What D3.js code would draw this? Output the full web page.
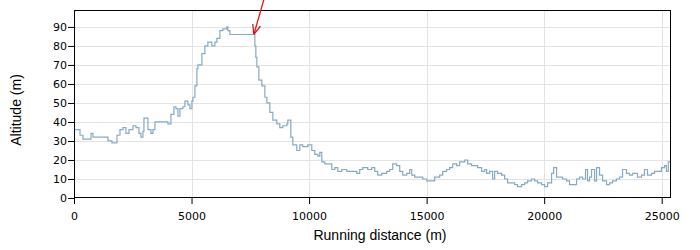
<!DOCTYPE html>
<html lang="en">
<head>
    <meta charset="UTF-8">
    <title>Altitude profile</title>
    <script src="https://d3js.org/d3.v7.js"></script>
    <style>
        body { margin: 0; background: #fff; }
        svg { display: block; }
        .axis text { font-family: "DejaVu Sans", sans-serif; font-size: 11px; fill: #000; }
        .axis path, .axis line { stroke: #000; }
        .grid line { stroke: #e3e3e3; stroke-width: 1px; }
        .title { font-family: "Liberation Sans", Arial, sans-serif; font-size: 14px; fill: #000; }
    </style>
</head>
<body>
    <svg width="700" height="250"></svg>
    <script>
        // running distance (m) and altitude (m)
        const distance = [
            0, 255, 383, 468, 723, 808, 1318, 1445, 1615, 1743, 1828, 1955, 2083, 2210, 2338, 2508,
            2635, 2763, 2848, 2933, 2975, 3103, 3145, 3273, 3358, 3443, 3570, 3783, 3995, 4123, 4250,
            4335, 4420, 4505, 4633, 4718, 4845, 4930, 5015, 5058, 5143, 5228, 5270, 5440, 5568, 5695,
            5865, 5993, 6078, 6205, 6333, 6503, 6545, 6630, 7650, 7693, 7735, 7778, 7863, 7990, 8118,
            8203, 8330, 8458, 8628, 8755, 8883, 9053, 9095, 9223, 9308, 9478, 9605, 9733, 9945, 10115,
            10243, 10370, 10455, 10540, 10668, 10795, 10965, 11093, 11220, 11390, 11603, 11815, 12028,
            12155, 12283, 12495, 12665, 12793, 12920, 13090, 13303, 13430, 13558, 13728, 13855, 13983,
            14153, 14280, 14365, 14493, 14705, 14833, 15003, 15130, 15343, 15555, 15683, 15853, 15980,
            16108, 16278, 16405, 16618, 16745, 16915, 17043, 17170, 17340, 17468, 17553, 17680, 17808,
            17893, 18020, 18190, 18318, 18445, 18615, 18743, 18870, 19040, 19168, 19295, 19465, 19593,
            19720, 19890, 20018, 20145, 20315, 20400, 20528, 20655, 20783, 20953, 21080, 21208, 21378,
            21505, 21633, 21760, 21845, 21930, 22015, 22143, 22228, 22355, 22483, 22653, 22780, 22908,
            23078, 23205, 23333, 23503, 23630, 23758, 23970, 24140, 24268, 24395, 24565, 24693, 24820,
            24990, 25118, 25200, 25280, 25395
        ];
        const altitude = [
            36, 33, 31, 31, 34, 32, 32, 30, 29, 29, 33, 36, 37, 34, 36, 38,
            37, 34, 32, 35, 42, 42, 36, 34, 36, 40, 40, 40, 39, 44, 48,
            47, 43, 47, 48, 51, 49, 47, 51, 53, 59, 68, 70, 76, 80, 82,
            80, 82, 84, 88, 89, 90, 88, 86, 86, 80, 74, 69, 62, 59, 53,
            50, 45, 41, 39, 37, 38, 39, 41, 32, 28, 25, 28, 27, 28, 25,
            23, 22, 24, 19, 18, 18, 15, 16, 14, 15, 14, 14, 13,
            15, 16, 15, 16, 14, 12, 13, 14, 15, 18, 17, 14, 12,
            13, 15, 12, 11, 11, 10, 9, 9, 11, 12, 14, 15, 16,
            18, 17, 19, 20, 18, 17, 17, 16, 14, 15, 13, 14, 10,
            14, 13, 12, 10, 8, 8, 7, 6, 7, 8, 9, 10, 9,
            8, 7, 6, 8, 13, 16, 11, 11, 10, 9, 7, 7, 10,
            11, 10, 15, 9, 11, 15, 9, 16, 12, 9, 7, 8, 9,
            10, 11, 15, 13, 12, 13, 11, 12, 15, 12, 13, 14, 14,
            16, 17, 14, 19, 22
        ];
        const yTicks = [0, 10, 20, 30, 40, 50, 60, 70, 80, 90];
        const xTicks = [0, 5000, 10000, 15000, 20000, 25000];
        // annotation arrow: tail (outside the frame) -> tip at start of descent
        const arrowTail = [8080, 104.5];
        const arrowTip = [7650, 86];

        const width = 700, height = 250;
        const margin = { top: 10, right: 29, bottom: 52, left: 74 };
        const svg = d3.select("svg");

        const x = d3.scaleLinear()
            .domain([0, 25395])
            .range([margin.left, width - margin.right]);
        const y = d3.scaleLinear()
            .domain([0, 98.9])
            .range([height - margin.bottom, margin.top]);

        // grid
        svg.append("g").attr("class", "grid")
            .selectAll("line.h").data(yTicks.slice(1)).enter().append("line")
            .attr("x1", margin.left).attr("x2", width - margin.right)
            .attr("y1", d => Math.round(y(d)) + 0.5).attr("y2", d => Math.round(y(d)) + 0.5);
        svg.append("g").attr("class", "grid")
            .selectAll("line.v").data(xTicks.slice(1)).enter().append("line")
            .attr("y1", margin.top).attr("y2", height - margin.bottom)
            .attr("x1", d => Math.round(x(d)) + 0.5).attr("x2", d => Math.round(x(d)) + 0.5);

        svg.append("clipPath").attr("id", "clip")
            .append("rect")
            .attr("x", margin.left).attr("y", margin.top)
            .attr("width", width - margin.left - margin.right)
            .attr("height", height - margin.top - margin.bottom);

        const points = distance.map((d, i) => [d, altitude[i]]);
        const line = d3.line()
            .x(d => x(d[0]))
            .y(d => y(d[1]))
            .curve(d3.curveStepAfter);

        svg.append("path")
            .attr("clip-path", "url(#clip)")
            .attr("d", line(points))
            .attr("fill", "none")
            .attr("stroke", "#86a9c4")
            .attr("stroke-width", 1.2);

        // frame
        svg.append("rect")
            .attr("x", margin.left + 0.5).attr("y", margin.top + 0.5)
            .attr("width", width - margin.left - margin.right - 1)
            .attr("height", height - margin.top - margin.bottom - 1)
            .attr("fill", "none").attr("stroke", "#000");

        svg.append("g").attr("class", "axis")
            .attr("transform", `translate(0,${height - margin.bottom})`)
            .call(d3.axisBottom(x).tickValues(xTicks).tickFormat(d3.format("d")).tickSize(6).tickPadding(8))
            .call(g => g.select(".domain").remove());

        svg.append("g").attr("class", "axis")
            .attr("transform", `translate(${margin.left},0)`)
            .call(d3.axisLeft(y).tickValues(yTicks).tickSize(6).tickPadding(1))
            .call(g => g.select(".domain").remove());

        svg.append("text").attr("class", "title")
            .attr("x", 380).attr("y", 240)
            .attr("text-anchor", "middle")
            .text("Running distance (m)");

        svg.append("text").attr("class", "title")
            .attr("transform", "translate(21,110) rotate(-90)")
            .attr("text-anchor", "middle")
            .text("Altitude (m)");

        // arrow
        svg.append("defs").append("marker")
            .attr("id", "head")
            .attr("viewBox", "0 0 10 10")
            .attr("refX", 10).attr("refY", 5)
            .attr("markerWidth", 10).attr("markerHeight", 10)
            .attr("markerUnits", "userSpaceOnUse")
            .attr("orient", "auto")
            .append("path")
            .attr("d", "M0,1 L10,5 L0,9")
            .attr("fill", "none")
            .attr("stroke", "#e8141b")
            .attr("stroke-width", 1.3);

        svg.append("line")
            .attr("x1", x(arrowTail[0])).attr("y1", y(arrowTail[1]))
            .attr("x2", x(arrowTip[0])).attr("y2", y(arrowTip[1]))
            .attr("stroke", "#e8141b")
            .attr("stroke-width", 1.3)
            .attr("marker-end", "url(#head)");
    </script>
</body>
</html>
